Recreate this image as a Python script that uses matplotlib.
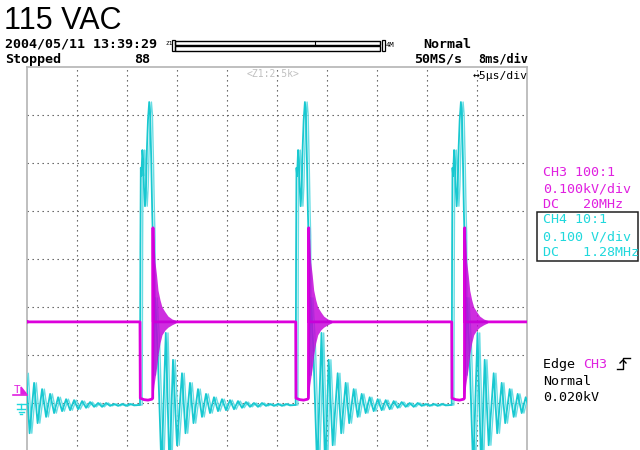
import numpy as np
import matplotlib
matplotlib.use("Agg")
import matplotlib.pyplot as plt
from matplotlib.patches import Rectangle

# ---------------- data (time in us, amplitude in divisions) ----------------
pulse_starts_us = [-4.29, 11.30, 26.87, 42.47]

# CH4 (cyan) waveform read around one switching pulse, offset from rising edge
ch4_offset_us = [0.00, 0.04, 0.08, 0.14, 0.24, 0.32, 0.40, 0.50, 0.60, 0.70,
                 0.80, 0.92, 1.02, 1.12, 1.22, 1.28, 1.33, 1.50, 1.75, 2.15,
                 2.58, 2.95, 3.30, 3.70, 4.20, 4.55, 5.00, 5.35, 5.80, 6.20,
                 6.60, 7.00, 7.40, 7.80, 8.20, 8.60, 9.00, 9.40, 9.80, 10.2,
                 10.6, 11.0, 11.4, 11.8, 12.2, 12.6, 13.0, 13.4, 13.8, 14.2,
                 14.6, 15.0]
ch4_div = [-3.04, 0.19, 1.90, 1.73, 2.27, 2.06, 1.48, 1.10, 1.52, 2.35,
           2.90, 3.27, 3.02, 2.10, 0.98, 0.48, -2.42, -0.81, -1.79, -4.40,
           -1.54, -4.40, -2.10, -3.88, -2.38, -3.63, -2.58, -3.42, -2.71, -3.29,
           -2.81, -3.21, -2.88, -3.17, -2.92, -3.15, -2.94, -3.13, -2.96, -3.10,
           -2.98, -3.08, -3.00, -3.08, -3.00, -3.06, -3.02, -3.06, -3.02, -3.06,
           -3.02, -3.05]

# CH3 (magenta) waveform around one pulse
ch3_offset_us = [0.00, 0.03, 0.40, 0.80, 1.20, 1.27, 1.30, 1.33, 3.60]
ch3_div = [-1.31, -2.90, -2.93, -2.94, -2.92, -2.90, 0.65, -1.31, -1.31]

# CH3 ringing envelope after turn-off
ch3_ring_offset_us = [1.28, 1.40, 1.50, 1.65, 1.80, 2.00, 2.20, 2.50, 2.80, 3.20, 3.60]
ch3_ring_top_div = [0.65, 0.40, -0.06, -0.33, -0.65, -0.85, -1.00, -1.10, -1.19, -1.25, -1.28]
ch3_ring_bot_div = [-2.90, -2.63, -2.48, -2.27, -2.00, -1.75, -1.58, -1.48, -1.42, -1.37, -1.33]

x_divs = [5, 10, 15, 20, 25, 30, 35, 40, 45]
y_divs = [-3, -2, -1, 0, 1, 2, 3]

CYAN = "#18C8D0"
CYAN_LIGHT = "#6ADDE4"
MAG = "#DC00DC"

# ---------------- figure ----------------
W, H = 640, 450
fig = plt.figure(figsize=(W / 100, H / 100), dpi=100)
fig.patch.set_facecolor("white")

ax = fig.add_axes([27 / W, 1 - 451 / H, 500 / W, 384 / H])
ax.set_xlim(0, 50)
ax.set_ylim(-4, 4)
ax.set_xticks([])
ax.set_yticks([])
for s in ax.spines.values():
    s.set_color("#B4B4B4")
    s.set_linewidth(1.2)

for xv in x_divs:
    ax.axvline(xv, color="#505050", lw=0.8, ls=(0, (1.2, 3.3)), zorder=1)
for yv in y_divs:
    ax.axhline(yv, color="#505050", lw=0.8, ls=(0, (1.2, 3.3)), zorder=1)

# CH4 trace (two overlaid acquisitions, as on the persistence display)
x4 = np.concatenate([s + np.array(ch4_offset_us) for s in pulse_starts_us])
y4 = np.tile(np.array(ch4_div), len(pulse_starts_us))
ax.plot(x4 + 0.22, y4, color=CYAN_LIGHT, lw=1.0, zorder=3)
ax.plot(x4, y4, color=CYAN, lw=1.3, zorder=3)

# CH3 trace
x3 = np.concatenate([[0.0]] + [s + np.array(ch3_offset_us) for s in pulse_starts_us] + [[50.0]])
y3 = np.concatenate([[ch3_div[0]]] + [np.array(ch3_div) for _ in pulse_starts_us] + [[ch3_div[0]]])
ax.plot(x3, y3, color=MAG, lw=2.0, zorder=4)
for s in pulse_starts_us:
    xr = s + np.array(ch3_ring_offset_us)
    ax.fill_between(xr, ch3_ring_bot_div, ch3_ring_top_div, color="#C400D8",
                    alpha=0.82, lw=0, zorder=5)

# ---------------- overlay (pixel coordinates) ----------------
ov = fig.add_axes([0, 0, 1, 1], zorder=10)
ov.set_xlim(0, W)
ov.set_ylim(H, 0)
ov.axis("off")
ov.patch.set_alpha(0)

MONO = ["DejaVu Sans Mono"]
ov.text(4, 29, "115 VAC", fontsize=22, family=["Liberation Sans"], va="baseline", ha="left")
ov.text(5, 47.5, "2004/05/11 13:39:29", fontsize=9.6, family=MONO, weight="bold",
        va="baseline", ha="left")
ov.text(5, 63, "Stopped", fontsize=9.6, family=MONO, weight="bold", va="baseline", ha="left")
ov.text(134, 63, "88", fontsize=9.6, family=MONO, weight="bold", va="baseline", ha="left")
ov.text(423, 48, "Normal", fontsize=9.6, family=MONO, weight="bold", va="baseline", ha="left")
ov.text(414, 63, "50MS/s", fontsize=9.6, family=MONO, weight="bold", va="baseline", ha="left")
ov.text(528, 63, "8ms/div", fontsize=8.6, family=MONO, weight="bold", va="baseline", ha="right")
ov.text(528, 79, "\u21945\u03bcs/div", fontsize=8.2, family=MONO, va="baseline", ha="right")
ov.text(273, 74, "<Z1:2.5k>", fontsize=7, family=MONO, color="#C0C0C0", va="center", ha="center")
ov.text(165, 45, "Z1", fontsize=4.5, family=MONO, va="baseline", ha="left")
ov.text(386, 47, "4M", fontsize=5.2, family=MONO, va="baseline", ha="left")

# zoom bar
ov.add_patch(Rectangle((175, 40.5), 205, 4.5, fill=False, lw=1, ec="black"))
ov.add_patch(Rectangle((175, 46), 205, 4.5, fill=False, lw=1, ec="black"))
ov.plot([315, 315], [40.5, 45], color="black", lw=0.8)
for bx in (172, 382):
    ov.add_patch(Rectangle((bx, 40), 2.5, 11, fill=False, lw=0.9, ec="black"))

# right panel
ov.text(543, 176, "CH3 100:1", fontsize=9.6, family=MONO, color="#E020E0", va="baseline")
ov.text(543, 192, "0.100kV/div", fontsize=9.6, family=MONO, color="#E020E0", va="baseline")
ov.text(543, 208, "DC   20MHz", fontsize=9.6, family=MONO, color="#E020E0", va="baseline")
ov.add_patch(Rectangle((536.5, 211.5), 101, 49.5, fill=False, lw=1.1, ec="#202020"))
ov.text(543, 223, "CH4 10:1", fontsize=9.6, family=MONO, color="#20D8DC", va="baseline")
ov.text(543, 240, "0.100 V/div", fontsize=9.6, family=MONO, color="#20D8DC", va="baseline")
ov.text(543, 256, "DC   1.28MHz", fontsize=9.6, family=MONO, color="#20D8DC", va="baseline")
ov.text(543, 368, "Edge ", fontsize=9.6, family=MONO, color="black", va="baseline")
ov.text(583, 368, "CH3", fontsize=9.6, family=MONO, color="#E020E0", va="baseline")
ov.plot([617, 623, 623, 630], [369, 369, 358, 358], color="black", lw=1)
ov.plot([620, 623, 626], [363, 360, 363], color="black", lw=1)
ov.text(543, 385, "Normal", fontsize=9.6, family=MONO, color="black", va="baseline")
ov.text(543, 401, "0.020kV", fontsize=9.6, family=MONO, color="black", va="baseline")

# trigger-level marker and ground marker at left
ov.text(14, 393, "T", fontsize=8, family=MONO, color="#E020E0", va="baseline", ha="left")
ov.fill([21, 26.5, 21], [387, 394, 394], color="#E020E0")
ov.plot([13, 27], [395, 395], color="#E020E0", lw=1.2)
ov.plot([17, 27], [404, 404], color="#20D8DC", lw=1)
ov.plot([21, 21], [404, 409], color="#20D8DC", lw=1)
ov.plot([17, 25], [409, 409], color="#20D8DC", lw=1)
ov.plot([18.5, 23.5], [411.5, 411.5], color="#20D8DC", lw=1)
ov.plot([20, 22], [414, 414], color="#20D8DC", lw=1)

fig.savefig("out.png", dpi=100, facecolor="white")
